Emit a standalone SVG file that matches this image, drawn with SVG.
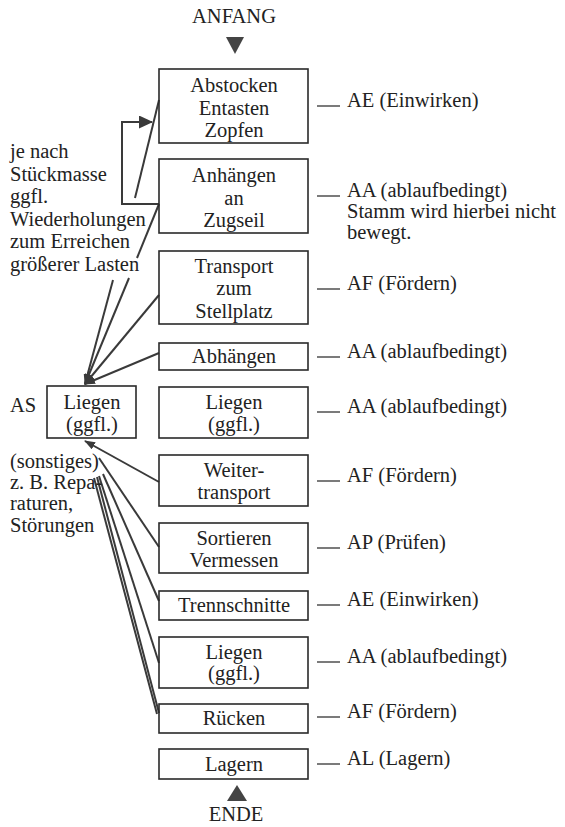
<svg xmlns="http://www.w3.org/2000/svg" width="565" height="827" viewBox="0 0 565 827">
<style>
text{font-family:"Liberation Serif","Times New Roman",serif;font-size:20.5px;fill:#222}
.c{text-anchor:middle}
.box{fill:none;stroke:#2a2a2a;stroke-width:1.6}
.ln{fill:none;stroke:#3a3a3a;stroke-width:2}
.dash{stroke:#333;stroke-width:1.3}
.tri{fill:#444}
</style>
<defs>
<marker id="ah" markerUnits="userSpaceOnUse" markerWidth="11" markerHeight="8" refX="10" refY="4" orient="auto">
<path d="M0,0 L11,4 L0,8 z" fill="#3a3a3a"/>
</marker>
<marker id="ahb" markerUnits="userSpaceOnUse" markerWidth="14" markerHeight="13" refX="13" refY="6.5" orient="auto">
<path d="M0,0 L14,6.5 L0,13 z" fill="#3a3a3a"/>
</marker>
</defs>
<rect width="565" height="827" fill="#fff"/>

<g id="start">
<text class="c" x="234" y="23">ANFANG</text>
<path class="tri" d="M226,37 L244,37 L235,54 z"/>
</g>

<g id="connectors">
<path class="ln" d="M159,204 L122,204 L122,122 L152,122" marker-end="url(#ahb)"/>
<path class="ln" d="M159,100 L135,198"/>
<path class="ln" d="M113,280 L85,384" marker-end="url(#ah)"/>
<path class="ln" d="M159,204 L137,258"/>
<path class="ln" d="M129,278 L85,384" marker-end="url(#ah)"/>
<path class="ln" d="M159,295 L85,384" marker-end="url(#ah)"/>
<path class="ln" d="M159,353 L85,384" marker-end="url(#ah)"/>
<path class="ln" d="M159,482 L85,441" marker-end="url(#ah)"/>
<path class="ln" d="M99,458 L159,547"/>
<path class="ln" d="M103,474 L159,601"/>
<path class="ln" d="M99,476 L159,663"/>
<path class="ln" d="M97,477 L159,713"/>
<path class="ln" d="M94,478 L157,714"/>
</g>

<g id="n1"><rect class="box" x="159" y="69" width="149" height="74"/>
<text class="c" x="234" y="92">Abstocken</text><text class="c" x="234" y="114.5">Entasten</text><text class="c" x="234" y="137">Zopfen</text>
<line class="dash" x1="317" y1="106" x2="340" y2="106"/><text x="347" y="107">AE (Einwirken)</text></g>

<g id="n2"><rect class="box" x="159" y="159" width="149" height="74"/>
<text class="c" x="234" y="182">Anhängen</text><text class="c" x="234" y="204.5">an</text><text class="c" x="234" y="227">Zugseil</text>
<line class="dash" x1="317" y1="196" x2="340" y2="196"/><text x="347" y="197">AA (ablaufbedingt)</text>
<text x="347" y="218">Stamm wird hierbei nicht</text><text x="347" y="238.5">bewegt.</text></g>

<g id="n3"><rect class="box" x="159" y="251" width="149" height="73"/>
<text class="c" x="234" y="272.5">Transport</text><text class="c" x="234" y="295">zum</text><text class="c" x="234" y="317.5">Stellplatz</text>
<line class="dash" x1="317" y1="289" x2="340" y2="289"/><text x="347" y="290">AF (Fördern)</text></g>

<g id="n4"><rect class="box" x="159" y="343" width="149" height="27"/>
<text class="c" x="234" y="363">Abhängen</text>
<line class="dash" x1="317" y1="357" x2="340" y2="357"/><text x="347" y="358">AA (ablaufbedingt)</text></g>

<g id="n5"><rect class="box" x="159" y="387" width="149" height="51"/>
<text class="c" x="234" y="409">Liegen</text><text class="c" x="234" y="430.5">(ggfl.)</text>
<line class="dash" x1="317" y1="412" x2="340" y2="412"/><text x="347" y="413">AA (ablaufbedingt)</text></g>

<g id="n6"><rect class="box" x="159" y="455" width="149" height="51"/>
<text class="c" x="234" y="477">Weiter-</text><text class="c" x="234" y="498.5">transport</text>
<line class="dash" x1="317" y1="481" x2="340" y2="481"/><text x="347" y="482">AF (Fördern)</text></g>

<g id="n7"><rect class="box" x="159" y="523" width="149" height="50"/>
<text class="c" x="234" y="544.5">Sortieren</text><text class="c" x="234" y="566.5">Vermessen</text>
<line class="dash" x1="317" y1="548" x2="340" y2="548"/><text x="347" y="549">AP (Prüfen)</text></g>

<g id="n8"><rect class="box" x="159" y="591" width="149" height="29"/>
<text class="c" x="234" y="612">Trennschnitte</text>
<line class="dash" x1="317" y1="605" x2="340" y2="605"/><text x="347" y="606">AE (Einwirken)</text></g>

<g id="n9"><rect class="box" x="159" y="637" width="149" height="51"/>
<text class="c" x="234" y="658.5">Liegen</text><text class="c" x="234" y="680">(ggfl.)</text>
<line class="dash" x1="317" y1="662" x2="340" y2="662"/><text x="347" y="663">AA (ablaufbedingt)</text></g>

<g id="n10"><rect class="box" x="159" y="704" width="149" height="29"/>
<text class="c" x="234" y="725">Rücken</text>
<line class="dash" x1="317" y1="717" x2="340" y2="717"/><text x="347" y="718">AF (Fördern)</text></g>

<g id="n11"><rect class="box" x="159" y="749" width="149" height="30"/>
<text class="c" x="234" y="771">Lagern</text>
<line class="dash" x1="317" y1="764" x2="340" y2="764"/><text x="347" y="765">AL (Lagern)</text></g>

<g id="end">
<path class="tri" d="M227,801 L247,801 L237,785 z"/>
<text class="c" x="236" y="821">ENDE</text>
</g>

<g id="side">
<rect class="box" x="47" y="386" width="89" height="52"/>
<text class="c" x="92" y="409">Liegen</text><text class="c" x="92" y="430.5">(ggfl.)</text>
<text x="10" y="412">AS</text>
</g>

<g id="note-repeat">
<text x="10" y="158">je nach</text>
<text x="10" y="180.6">Stückmasse</text>
<text x="10" y="203.2">ggfl.</text>
<text x="10" y="225.8">Wiederholungen</text>
<text x="10" y="248.4">zum Erreichen</text>
<text x="10" y="271">größerer Lasten</text>
</g>

<g id="note-other">
<text x="10" y="468">(sonstiges)</text>
<text x="10" y="489">z. B. Repa-</text>
<text x="10" y="510">raturen,</text>
<text x="10" y="532">Störungen</text>
</g>
</svg>
